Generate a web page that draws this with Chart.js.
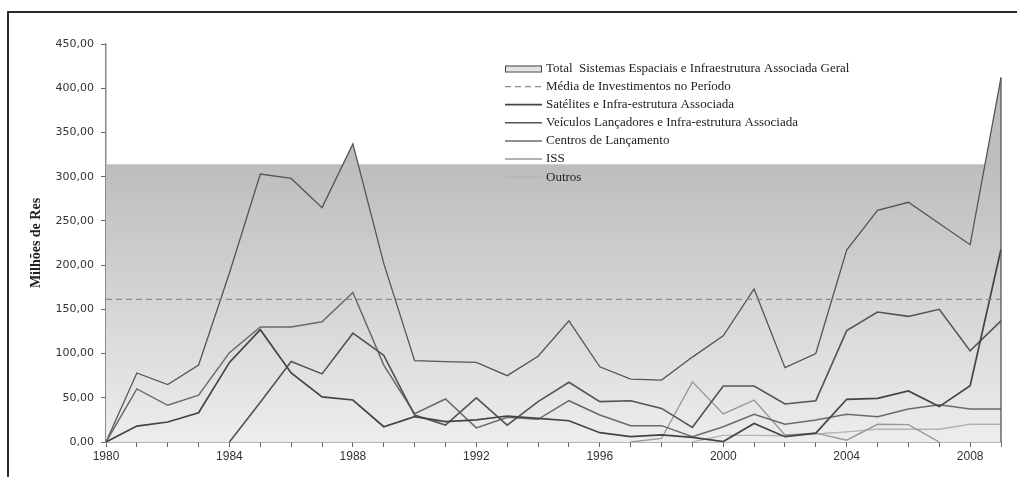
<!DOCTYPE html>
<html><head><meta charset="utf-8">
<script src="https://cdn.jsdelivr.net/npm/chart.js@4/dist/chart.umd.min.js"></script>
<style>
html,body{margin:0;padding:0;background:#fff;}
#wrap{position:relative;width:1017px;height:477px;overflow:hidden;}
#frame{position:absolute;left:7px;top:11px;right:-4px;bottom:-4px;border-top:2px solid #2a2a2a;border-left:2px solid #2a2a2a;pointer-events:none;}
canvas{position:absolute;left:0;top:0;}
</style></head><body>
<div id="wrap"><canvas id="c" width="1017" height="477"></canvas><div id="frame"></div></div>
<script>
const years = ['1980','1981','1982','1983','1984','1985','1986','1987','1988','1989',
               '1990','1991','1992','1993','1994','1995','1996','1997','1998','1999',
               '2000','2001','2002','2003','2004','2005','2006','2007','2008','2009'];
const xTickLabels = ['1980','1984','1988','1992','1996','2000','2004','2008'];

const total     = [0,78,65,87,191,303,298,265,337,202, 92,90.8,90,75,97,137,85,71,70,96, 120,173,84,100,217,262,271,247,223,412];
const satelites = [0,18,22.6,33,90,127,78,51,47.5,17.3, 28.6,23,25,29.4,26.8,24,10.5,6,8,5.3, 0.5,21,6,10,48.3,49.4,57.7,40,63.7,218];
const veiculos  = [null,null,null,null,0,45,91,77,123,98, 30.5,19.2,50,19,45.6,67.5,45.6,46.7,38,16.6, 63.3,63.3,43,46.7,126,147,142,150,103,137];
const centros   = [0,60,41.5,53,101,130,130,136,169,87, 32,48.6,16,28,25.6,46.7,30.5,18.5,18.5,6, 17.3,31.3,20,25,31.3,28.6,37.3,42,37.3,37.3];
const iss       = [null,null,null,null,null,null,null,null,null,null, null,null,null,null,null,null,null,0,4,68, 31.7,47.5,8,10,2,20,19.6,0,null,null];
const outros    = [null,null,null,null,null,null,null,null,null,null, null,null,null,null,null,null,null,null,null,0, 7.5,7.5,7,9,11.5,14.5,14.5,14.5,20,20];

const mediaPeriodo = 161.3;
const bandTop = 314;
const yMin = 0, yMax = 450, yStep = 50;

function bandGradient(chart){
  const y = chart.scales.y;
  const g = chart.ctx.createLinearGradient(0, y.getPixelForValue(bandTop), 0, y.getPixelForValue(0));
  g.addColorStop(0, '#bdbdbe');
  g.addColorStop(1, '#ededed');
  return g;
}

const bandPlugin = {
  id: 'band',
  beforeDatasetsDraw(chart){
    const {ctx, chartArea:a, scales:{y}} = chart;
    ctx.save();
    ctx.fillStyle = bandGradient(chart);
    const t = y.getPixelForValue(bandTop), b = y.getPixelForValue(0);
    ctx.fillRect(a.left, t, a.right - a.left, b - t);
    ctx.restore();
  },
  afterDatasetsDraw(chart){
    const {ctx, chartArea:a, scales:{y}} = chart;
    ctx.save();
    ctx.strokeStyle = '#555';
    ctx.lineWidth = 1.3;
    ctx.beginPath();
    ctx.moveTo(a.right, y.getPixelForValue(total[total.length-1]));
    ctx.lineTo(a.right, y.getPixelForValue(0));
    ctx.stroke();
    ctx.restore();
  }
};

const legendPlugin = {
  id: 'insideLegend',
  afterDraw(chart){
    const {ctx, chartArea:a} = chart;
    const x0 = a.left + (a.right - a.left) * 0.4458;
    let yy = a.top + 24.5;
    ctx.save();
    ctx.font = '13px "Liberation Serif"';
    ctx.textBaseline = 'middle';
    ctx.textAlign = 'left';
    chart.data.datasets.forEach(ds => {
      if (ds.swatch === 'box') {
        ctx.fillStyle = '#e3e3e3';
        ctx.fillRect(x0, yy - 3, 36, 6);
        ctx.strokeStyle = '#444';
        ctx.lineWidth = 1;
        ctx.setLineDash([]);
        ctx.strokeRect(x0 + 0.5, yy - 3 + 0.5, 36, 6);
      } else {
        ctx.strokeStyle = ds.borderColor;
        ctx.lineWidth = ds.borderWidth;
        ctx.setLineDash(ds.borderDash || []);
        ctx.beginPath();
        ctx.moveTo(x0, yy);
        ctx.lineTo(x0 + 37, yy);
        ctx.stroke();
        ctx.setLineDash([]);
      }
      ctx.fillStyle = '#222';
      ctx.fillText(ds.label, x0 + 41, yy);
      yy += 18.1;
    });
    ctx.restore();
  }
};

new Chart(document.getElementById('c'), {
  type: 'line',
  data: {
    labels: years,
    datasets: [
      { label: 'Total  Sistemas Espaciais e Infraestrutura Associada Geral', data: total, swatch: 'box',
        borderColor: '#555', borderWidth: 1.3, fill: 'origin', order: 10,
        backgroundColor: (c) => c.chart.chartArea ? bandGradient(c.chart) : '#ccc' },
      { label: 'Média de Investimentos no Período', data: [{x:'1980', y:mediaPeriodo},{x:'2009', y:mediaPeriodo}],
        borderColor: '#8c8c8c', borderWidth: 1.3, borderDash: [6,4], fill: false },
      { label: 'Satélites e Infra-estrutura Associada', data: satelites, borderColor: '#444', borderWidth: 1.7, fill: false },
      { label: 'Veículos Lançadores e Infra-estrutura Associada', data: veiculos, borderColor: '#545454', borderWidth: 1.6, fill: false },
      { label: 'Centros de Lançamento', data: centros, borderColor: '#6a6a6a', borderWidth: 1.5, fill: false },
      { label: 'ISS', data: iss, borderColor: '#999', borderWidth: 1.4, fill: false },
      { label: 'Outros', data: outros, borderColor: '#b3b3b3', borderWidth: 1.4, fill: false }
    ]
  },
  options: {
    responsive: false,
    animation: false,
    devicePixelRatio: 1,
    elements: { point: { radius: 0, hoverRadius: 0 }, line: { tension: 0 } },
    layout: { padding: { left: 25, top: 44, right: 16, bottom: 0 } },
    plugins: { legend: { display: false }, tooltip: { enabled: false } },
    scales: {
      x: {
        type: 'category', offset: false,
        grid: { display: true, drawOnChartArea: false, drawTicks: true, tickLength: 5, color: '#666' },
        border: { color: '#6a6a6a', width: 1.5 },
        ticks: { autoSkip: false, maxRotation: 0, minRotation: 0, padding: 2, color: '#333',
                 font: { family: 'Liberation Sans', size: 12 },
                 callback: function(v){ const l = this.getLabelForValue(v); return xTickLabels.includes(l) ? l : ''; } },
        afterFit(s){ s.height = 35; }
      },
      y: {
        min: yMin, max: yMax,
        ticks: { stepSize: yStep, padding: 7, color: '#333', font: { family: 'DejaVu Sans', size: 11 },
                 callback: v => v.toFixed(2).replace('.', ',') },
        grid: { drawOnChartArea: false, tickLength: 5, color: '#666' },
        border: { color: '#8a8a8a', width: 1.5 },
        title: { display: true, text: 'Milhões de Res', color: '#222',
                 font: { family: 'Liberation Serif', size: 14, weight: 'bold' }, padding: { top: 3, bottom: 4 } },
        afterFit(s){ s.width = 81; }
      }
    }
  },
  plugins: [bandPlugin, legendPlugin]
});
</script>
</body></html>
